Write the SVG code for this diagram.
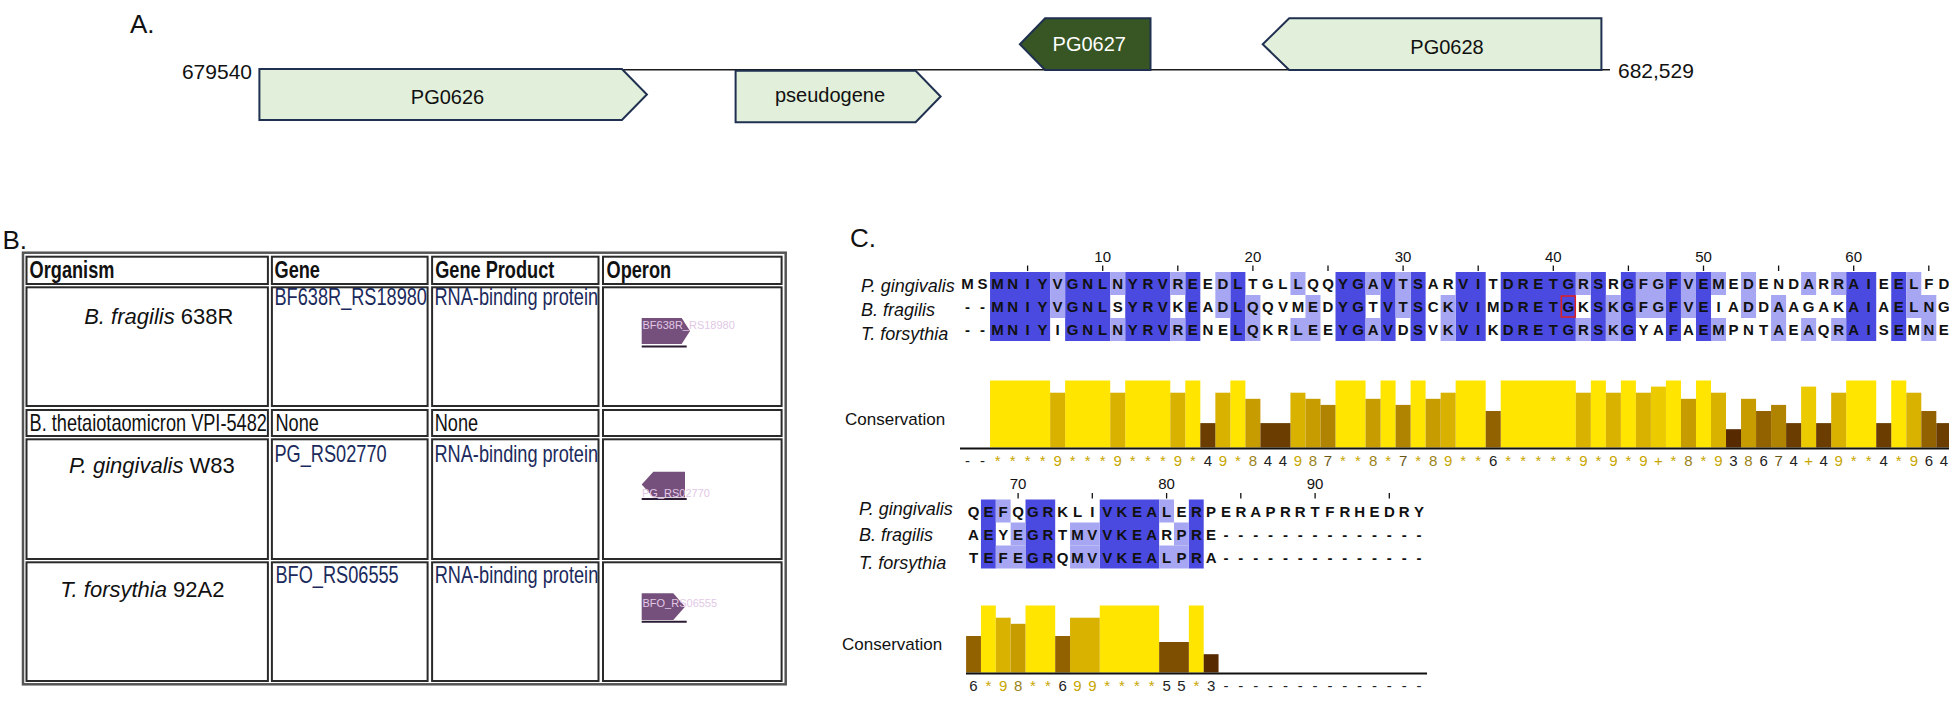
<svg xmlns="http://www.w3.org/2000/svg" width="1949" height="701" viewBox="0 0 1949 701">
<defs>
<style>
text{font-family:"Liberation Sans",Arial,Helvetica,sans-serif}
.pl{font-size:26px;fill:#111}
.gbox{fill:#e2efda;stroke:#1f3050;stroke-width:2}
.gdark{fill:#375623;stroke:#1f3050;stroke-width:2}
.gt{font-size:20px;fill:#111;text-anchor:middle}
.coord{font-size:21px;fill:#111}
.outer{fill:#fff;stroke:#555;stroke-width:2.5}
.cell{fill:#fff;stroke:#2a2a2a;stroke-width:2}
.nar{font-size:23px;fill:#111}
.th{font-weight:bold}
.lnk{fill:#1b2a5c}
.sp{font-size:22px;fill:#111}
.op{fill:#76507c}
.opl{stroke:#2b1b33;stroke-width:2}
.opt{font-size:11px;fill:#e2c8e6}
.dk{fill:#4a4ae0}
.lt{fill:#a6a6f2}
.seq{font-size:15px;font-weight:bold;fill:#111;text-anchor:middle}
.rul{font-size:15px;fill:#111;text-anchor:middle}
.tick{stroke:#111;stroke-width:1.3}
.org{font-size:18px;font-style:italic;fill:#111}
.cons{font-size:17px;fill:#111}
.b11{fill:#ffe500}
.b10{fill:#ecca00}
.b9{fill:#d9b200}
.b8{fill:#c69c00}
.b7{fill:#b08400}
.b6{fill:#936200}
.b5{fill:#7e4f00}
.b4{fill:#6c3d00}
.b3{fill:#582a00}
.base{stroke:#111;stroke-width:2}
.ct{font-size:15px;text-anchor:middle}
.cg{fill:#c8a600}
.co{fill:#9a8218}
.c7{fill:#6a5818}
.ck{fill:#222}
</style>
</defs>
<rect width="1949" height="701" fill="#fff"/>

<!-- Part A -->
<g id="partA">
<text class="pl" x="130" y="33">A.</text>
<line x1="259" y1="69.8" x2="1610" y2="69.8" stroke="#1a1a1a" stroke-width="1.5"/>
<g id="PG0626"><polygon class="gbox" points="259.4,69 621.9,69 646.9,94.5 621.9,120 259.4,120"/><text class="gt" x="447.5" y="103.5">PG0626</text></g>
<g id="pseudogene"><polygon class="gbox" points="735.6,70.7 915.6,70.7 940.6,96.5 915.6,122.3 735.6,122.3"/><text class="gt" x="830" y="102">pseudogene</text></g>
<g id="PG0627"><polygon class="gdark" points="1045.1,18.3 1150.5,18.3 1150.5,70 1045.1,70 1019.9,44.2"/><text class="gt" x="1089.3" y="51" style="fill:#fff">PG0627</text></g>
<g id="PG0628"><polygon class="gbox" points="1289.2,18.3 1601.4,18.3 1601.4,70 1289.2,70 1262.7,44.2"/><text class="gt" x="1447" y="53.5">PG0628</text></g>
<text class="coord" x="252" y="79" text-anchor="end">679540</text>
<text class="coord" x="1618" y="78">682,529</text>
</g>

<!-- Part B -->
<g id="partB">
<text class="pl" x="2.5" y="249">B.</text>
<rect class="outer" x="23" y="252.7" width="762.7" height="431.6"/>
<g id="header">
<rect class="cell" x="26.5" y="256.7" width="241.4" height="27.3"/>
<rect class="cell" x="271.9" y="256.7" width="155.7" height="27.3"/>
<rect class="cell" x="432.1" y="256.7" width="166.4" height="27.3"/>
<rect class="cell" x="603" y="256.7" width="178.6" height="27.3"/>
<text class="nar th" transform="translate(29.6 277.5) scale(0.79 1)">Organism</text>
<text class="nar th" transform="translate(274.5 277.5) scale(0.79 1)">Gene</text>
<text class="nar th" transform="translate(435.2 277.5) scale(0.79 1)">Gene Product</text>
<text class="nar th" transform="translate(606.5 277.5) scale(0.79 1)">Operon</text>
</g>
<g id="row-bfragilis">
<rect class="cell" x="26.5" y="287.3" width="241.4" height="118.7"/>
<rect class="cell" x="271.9" y="287.3" width="155.7" height="118.7"/>
<rect class="cell" x="432.1" y="287.3" width="166.4" height="118.7"/>
<rect class="cell" x="603" y="287.3" width="178.6" height="118.7"/>
<text class="sp" x="84.2" y="324"><tspan font-style="italic">B. fragilis</tspan> 638R</text>
<text class="nar lnk" transform="translate(274.5 305) scale(0.79 1)">BF638R_RS18980</text>
<text class="nar lnk" transform="translate(434.5 305) scale(0.79 1)">RNA-binding protein</text>
<polygon class="op" points="641.7,318 681.7,318 690,331 681.7,344 641.7,344"/>
<line class="opl" x1="641.7" y1="346.5" x2="686.7" y2="346.5"/>
<text class="opt" x="642.5" y="329">BF638R_RS18980</text>
</g>
<g id="row-btheta">
<rect class="cell" x="26.5" y="410" width="241.4" height="26"/>
<rect class="cell" x="271.9" y="410" width="155.7" height="26"/>
<rect class="cell" x="432.1" y="410" width="166.4" height="26"/>
<rect class="cell" x="603" y="410" width="178.6" height="26"/>
<text class="nar" transform="translate(29.6 430.5) scale(0.79 1)">B. thetaiotaomicron VPI-5482</text>
<text class="nar" transform="translate(275.5 430.5) scale(0.79 1)">None</text>
<text class="nar" transform="translate(434.7 430.5) scale(0.79 1)">None</text>
</g>
<g id="row-pgingivalis">
<rect class="cell" x="26.5" y="439.3" width="241.4" height="119.7"/>
<rect class="cell" x="271.9" y="439.3" width="155.7" height="119.7"/>
<rect class="cell" x="432.1" y="439.3" width="166.4" height="119.7"/>
<rect class="cell" x="603" y="439.3" width="178.6" height="119.7"/>
<text class="sp" x="68.9" y="473"><tspan font-style="italic">P. gingivalis</tspan> W83</text>
<text class="nar lnk" transform="translate(274.5 461.7) scale(0.79 1)">PG_RS02770</text>
<text class="nar lnk" transform="translate(434.5 461.7) scale(0.79 1)">RNA-binding protein</text>
<polygon class="op" points="641.7,484.5 653.3,471.7 685,471.7 685,497.3 653.3,497.3"/>
<line class="opl" x1="641.7" y1="499" x2="686.7" y2="499"/>
<text class="opt" x="642" y="496.7">PG_RS02770</text>
</g>
<g id="row-tforsythia">
<rect class="cell" x="26.5" y="562.3" width="241.4" height="118.7"/>
<rect class="cell" x="271.9" y="562.3" width="155.7" height="118.7"/>
<rect class="cell" x="432.1" y="562.3" width="166.4" height="118.7"/>
<rect class="cell" x="603" y="562.3" width="178.6" height="118.7"/>
<text class="sp" x="60.2" y="597"><tspan font-style="italic">T. forsythia</tspan> 92A2</text>
<text class="nar lnk" transform="translate(275.5 583) scale(0.79 1)">BFO_RS06555</text>
<text class="nar lnk" transform="translate(434.7 583) scale(0.79 1)">RNA-binding protein</text>
<polygon class="op" points="641.7,593.3 673.3,593.3 685,606.7 673.3,620 641.7,620"/>
<line class="opl" x1="641.7" y1="621.7" x2="686.7" y2="621.7"/>
<text class="opt" x="642.5" y="606.7">BFO_RS06555</text>
</g>
</g>

<!-- Part C -->
<g id="partC">
<text class="pl" x="850" y="247">C.</text>

<g id="block1">
<g id="ruler1">
<text class="rul" x="1102.7" y="261.5">10</text>
<text class="rul" x="1252.9" y="261.5">20</text>
<text class="rul" x="1403.1" y="261.5">30</text>
<text class="rul" x="1553.3" y="261.5">40</text>
<text class="rul" x="1703.5" y="261.5">50</text>
<text class="rul" x="1853.7" y="261.5">60</text>
<g class="tick">
<line x1="1027.6" y1="265.5" x2="1027.6" y2="271"/>
<line x1="1102.7" y1="265.5" x2="1102.7" y2="271"/>
<line x1="1177.8" y1="265.5" x2="1177.8" y2="271"/>
<line x1="1252.9" y1="265.5" x2="1252.9" y2="271"/>
<line x1="1328" y1="265.5" x2="1328" y2="271"/>
<line x1="1403.1" y1="265.5" x2="1403.1" y2="271"/>
<line x1="1478.2" y1="265.5" x2="1478.2" y2="271"/>
<line x1="1553.3" y1="265.5" x2="1553.3" y2="271"/>
<line x1="1628.4" y1="265.5" x2="1628.4" y2="271"/>
<line x1="1703.5" y1="265.5" x2="1703.5" y2="271"/>
<line x1="1778.6" y1="265.5" x2="1778.6" y2="271"/>
<line x1="1853.7" y1="265.5" x2="1853.7" y2="271"/>
<line x1="1928.8" y1="265.5" x2="1928.8" y2="271"/>
</g>
</g>
<g id="shade1" transform="translate(944.98 0) scale(15.02 1)">
<g class="dk">
<rect x="3" y="272" width="4" height="69"/><rect x="8" y="272" width="3" height="69"/><rect x="12" y="272" width="3" height="69"/>
<rect x="16" y="272" width="1" height="69"/><rect x="19" y="272" width="1" height="69"/><rect x="26" y="272" width="2" height="69"/>
<rect x="29" y="272" width="1" height="69"/><rect x="31" y="272" width="1" height="69"/><rect x="34" y="272" width="2" height="69"/>
<rect x="37" y="272" width="5" height="69"/><rect x="43" y="272" width="1" height="69"/><rect x="45" y="272" width="1" height="69"/>
<rect x="48" y="272" width="1" height="69"/><rect x="50" y="272" width="1" height="69"/><rect x="60" y="272" width="2" height="69"/>
<rect x="63" y="272" width="1" height="69"/>
</g>
<g class="lt">
<rect x="7" y="272" width="1" height="23"/><rect x="11" y="272" width="1" height="23"/><rect x="15" y="272" width="1" height="23"/>
<rect x="18" y="272" width="1" height="23"/><rect x="23" y="272" width="1" height="23"/><rect x="28" y="272" width="1" height="23"/>
<rect x="30" y="272" width="1" height="23"/><rect x="42" y="272" width="1" height="23"/><rect x="46" y="272" width="2" height="23"/>
<rect x="49" y="272" width="1" height="23"/><rect x="51" y="272" width="1" height="23"/><rect x="53" y="272" width="1" height="23"/>
<rect x="57" y="272" width="1" height="23"/><rect x="59" y="272" width="1" height="23"/><rect x="64" y="272" width="1" height="23"/>
<rect x="7" y="295" width="1" height="23"/><rect x="18" y="295" width="1" height="23"/><rect x="20" y="295" width="1" height="23"/>
<rect x="24" y="295" width="1" height="23"/><rect x="30" y="295" width="1" height="23"/><rect x="33" y="295" width="1" height="23"/>
<rect x="44" y="295" width="1" height="23"/><rect x="46" y="295" width="2" height="23"/><rect x="49" y="295" width="1" height="23"/>
<rect x="53" y="295" width="1" height="23"/><rect x="55" y="295" width="1" height="23"/><rect x="64" y="295" width="2" height="23"/>
<rect x="11" y="318" width="1" height="23"/><rect x="15" y="318" width="1" height="23"/><rect x="20" y="318" width="1" height="23"/>
<rect x="23" y="318" width="2" height="23"/><rect x="28" y="318" width="1" height="23"/><rect x="33" y="318" width="1" height="23"/>
<rect x="42" y="318" width="1" height="23"/><rect x="44" y="318" width="1" height="23"/><rect x="51" y="318" width="1" height="23"/>
<rect x="55" y="318" width="1" height="23"/><rect x="57" y="318" width="1" height="23"/><rect x="59" y="318" width="1" height="23"/>
<rect x="65" y="318" width="1" height="23"/>
</g>
</g>
<rect x="1561.3" y="296" width="14" height="21" fill="none" stroke="#e02020" stroke-width="1.5"/>
<text class="org" x="861" y="292">P. gingivalis</text>
<text class="org" x="861" y="316">B. fragilis</text>
<text class="org" x="861" y="340">T. forsythia</text>
<text class="seq" y="289" x="967.5 982.5 997.6 1012.6 1027.6 1042.6 1057.6 1072.7 1087.7 1102.7 1117.7 1132.7 1147.8 1162.8 1177.8 1192.8 1207.8 1222.9 1237.9 1252.9 1267.9 1282.9 1298.0 1313.0 1328.0 1343.0 1358.0 1373.1 1388.1 1403.1 1418.1 1433.1 1448.2 1463.2 1478.2 1493.2 1508.2 1523.2 1538.3 1553.3 1568.3 1583.3 1598.3 1613.4 1628.4 1643.4 1658.4 1673.4 1688.5 1703.5 1718.5 1733.5 1748.5 1763.6 1778.6 1793.6 1808.6 1823.6 1838.7 1853.7 1868.7 1883.7 1898.7 1913.8 1928.8 1943.8">MSMNIYVGNLNYRVREEDLTGLLQQYGAVTSARVITDRETGRSRGFGFVEMEDENDARRAIEELFD</text>
<text class="seq" y="312" x="967.5 982.5 997.6 1012.6 1027.6 1042.6 1057.6 1072.7 1087.7 1102.7 1117.7 1132.7 1147.8 1162.8 1177.8 1192.8 1207.8 1222.9 1237.9 1252.9 1267.9 1282.9 1298.0 1313.0 1328.0 1343.0 1358.0 1373.1 1388.1 1403.1 1418.1 1433.1 1448.2 1463.2 1478.2 1493.2 1508.2 1523.2 1538.3 1553.3 1568.3 1583.3 1598.3 1613.4 1628.4 1643.4 1658.4 1673.4 1688.5 1703.5 1718.5 1733.5 1748.5 1763.6 1778.6 1793.6 1808.6 1823.6 1838.7 1853.7 1868.7 1883.7 1898.7 1913.8 1928.8 1943.8">--MNIYVGNLSYRVKEADLQQVMEDYGTVTSCKVIMDRETGKSKGFGFVEIADDAAGAKAIAELNG</text>
<text class="seq" y="335" x="967.5 982.5 997.6 1012.6 1027.6 1042.6 1057.6 1072.7 1087.7 1102.7 1117.7 1132.7 1147.8 1162.8 1177.8 1192.8 1207.8 1222.9 1237.9 1252.9 1267.9 1282.9 1298.0 1313.0 1328.0 1343.0 1358.0 1373.1 1388.1 1403.1 1418.1 1433.1 1448.2 1463.2 1478.2 1493.2 1508.2 1523.2 1538.3 1553.3 1568.3 1583.3 1598.3 1613.4 1628.4 1643.4 1658.4 1673.4 1688.5 1703.5 1718.5 1733.5 1748.5 1763.6 1778.6 1793.6 1808.6 1823.6 1838.7 1853.7 1868.7 1883.7 1898.7 1913.8 1928.8 1943.8">--MNIYIGNLNYRVRENELQKRLEEYGAVDSVKVIKDRETGRSKGYAFAEMPNTAEAQRAISEMNE</text>
<text class="cons" x="845" y="424.5">Conservation</text>
<g id="bars1" transform="translate(944.98 0) scale(15.02 1)">
<g class="b11"><rect x="3" y="380.5" width="4" height="67"/><rect x="8" y="380.5" width="3" height="67"/><rect x="12" y="380.5" width="3" height="67"/><rect x="16" y="380.5" width="1" height="67"/><rect x="19" y="380.5" width="1" height="67"/><rect x="26" y="380.5" width="2" height="67"/><rect x="29" y="380.5" width="1" height="67"/><rect x="31" y="380.5" width="1" height="67"/><rect x="34" y="380.5" width="2" height="67"/><rect x="37" y="380.5" width="5" height="67"/><rect x="43" y="380.5" width="1" height="67"/><rect x="45" y="380.5" width="1" height="67"/><rect x="48" y="380.5" width="1" height="67"/><rect x="50" y="380.5" width="1" height="67"/><rect x="60" y="380.5" width="2" height="67"/><rect x="63" y="380.5" width="1" height="67"/></g>
<g class="b10"><rect x="47" y="386.6" width="1" height="60.9"/><rect x="57" y="386.6" width="1" height="60.9"/></g>
<g class="b9"><rect x="7" y="392.7" width="1" height="54.8"/><rect x="11" y="392.7" width="1" height="54.8"/><rect x="15" y="392.7" width="1" height="54.8"/><rect x="18" y="392.7" width="1" height="54.8"/><rect x="23" y="392.7" width="1" height="54.8"/><rect x="33" y="392.7" width="1" height="54.8"/><rect x="42" y="392.7" width="1" height="54.8"/><rect x="44" y="392.7" width="1" height="54.8"/><rect x="46" y="392.7" width="1" height="54.8"/><rect x="51" y="392.7" width="1" height="54.8"/><rect x="59" y="392.7" width="1" height="54.8"/><rect x="64" y="392.7" width="1" height="54.8"/></g>
<g class="b8"><rect x="20" y="398.8" width="1" height="48.7"/><rect x="24" y="398.8" width="1" height="48.7"/><rect x="28" y="398.8" width="1" height="48.7"/><rect x="32" y="398.8" width="1" height="48.7"/><rect x="49" y="398.8" width="1" height="48.7"/><rect x="53" y="398.8" width="1" height="48.7"/></g>
<g class="b7"><rect x="25" y="404.9" width="1" height="42.6"/><rect x="30" y="404.9" width="1" height="42.6"/><rect x="55" y="404.9" width="1" height="42.6"/></g>
<g class="b6"><rect x="36" y="411" width="1" height="36.5"/><rect x="54" y="411" width="1" height="36.5"/><rect x="65" y="411" width="1" height="36.5"/></g>
<g class="b4"><rect x="17" y="423.1" width="1" height="24.4"/><rect x="21" y="423.1" width="2" height="24.4"/><rect x="56" y="423.1" width="1" height="24.4"/><rect x="58" y="423.1" width="1" height="24.4"/><rect x="62" y="423.1" width="1" height="24.4"/><rect x="66" y="423.1" width="1" height="24.4"/></g>
<g class="b3"><rect x="52" y="429.2" width="1" height="18.3"/></g>
</g>
<line class="base" x1="960" y1="448.5" x2="1949" y2="448.5"/>
<text class="ct" y="465.5" x="967.5 982.5 997.6 1012.6 1027.6 1042.6 1057.6 1072.7 1087.7 1102.7 1117.7 1132.7 1147.8 1162.8 1177.8 1192.8 1207.8 1222.9 1237.9 1252.9 1267.9 1282.9 1298.0 1313.0 1328.0 1343.0 1358.0 1373.1 1388.1 1403.1 1418.1 1433.1 1448.2 1463.2 1478.2 1493.2 1508.2 1523.2 1538.3 1553.3 1568.3 1583.3 1598.3 1613.4 1628.4 1643.4 1658.4 1673.4 1688.5 1703.5 1718.5 1733.5 1748.5 1763.6 1778.6 1793.6 1808.6 1823.6 1838.7 1853.7 1868.7 1883.7 1898.7 1913.8 1928.8 1943.8"><tspan class="ck">--</tspan><tspan class="cg">****9***9***9*</tspan><tspan class="ck">4</tspan><tspan class="cg">9*</tspan><tspan class="co">8</tspan><tspan class="ck">44</tspan><tspan class="cg">9</tspan><tspan class="co">8</tspan><tspan class="c7">7</tspan><tspan class="cg">**</tspan><tspan class="co">8</tspan><tspan class="cg">*</tspan><tspan class="c7">7</tspan><tspan class="cg">*</tspan><tspan class="co">8</tspan><tspan class="cg">9**</tspan><tspan class="ck">6</tspan><tspan class="cg">*****9*9*9+*</tspan><tspan class="co">8</tspan><tspan class="cg">*9</tspan><tspan class="ck">3</tspan><tspan class="co">8</tspan><tspan class="ck">6</tspan><tspan class="c7">7</tspan><tspan class="ck">4</tspan><tspan class="cg">+</tspan><tspan class="ck">4</tspan><tspan class="cg">9**</tspan><tspan class="ck">4</tspan><tspan class="cg">*9</tspan><tspan class="ck">64</tspan></text>
</g>

<g id="block2">
<g id="ruler2">
<text class="rul" x="1018.1" y="489">70</text>
<text class="rul" x="1166.6" y="489">80</text>
<text class="rul" x="1315.1" y="489">90</text>
<g class="tick">
<line x1="1018.1" y1="493" x2="1018.1" y2="498.5"/>
<line x1="1092.3" y1="493" x2="1092.3" y2="498.5"/>
<line x1="1166.6" y1="493" x2="1166.6" y2="498.5"/>
<line x1="1240.8" y1="493" x2="1240.8" y2="498.5"/>
<line x1="1315.1" y1="493" x2="1315.1" y2="498.5"/>
<line x1="1389.3" y1="493" x2="1389.3" y2="498.5"/>
</g>
</g>
<g id="shade2" transform="translate(-28.85 0) scale(14.85 1)">
<g class="dk"><rect x="68" y="499.5" width="1" height="69"/><rect x="71" y="499.5" width="2" height="69"/><rect x="76" y="499.5" width="4" height="69"/><rect x="82" y="499.5" width="1" height="69"/></g>
<g class="lt">
<rect x="69" y="499.5" width="1" height="23"/><rect x="80" y="499.5" width="1" height="23"/>
<rect x="70" y="522.5" width="1" height="23"/><rect x="74" y="522.5" width="2" height="23"/><rect x="81" y="522.5" width="1" height="23"/>
<rect x="69" y="545.5" width="2" height="23"/><rect x="74" y="545.5" width="2" height="23"/><rect x="80" y="545.5" width="2" height="23"/>
</g>
</g>
<text class="org" x="859" y="515">P. gingivalis</text>
<text class="org" x="859" y="541">B. fragilis</text>
<text class="org" x="859" y="569">T. forsythia</text>
<text class="seq" y="516.5" x="973.5 988.4 1003.2 1018.1 1032.9 1047.8 1062.6 1077.5 1092.3 1107.2 1122.0 1136.9 1151.7 1166.6 1181.4 1196.3 1211.1 1226.0 1240.8 1255.7 1270.5 1285.4 1300.2 1315.1 1329.9 1344.8 1359.6 1374.5 1389.3 1404.2 1419.0">QEFQGRKLIVKEALERPERAPRRTFRHEDRY</text>
<text class="seq" y="539.5" x="973.5 988.4 1003.2 1018.1 1032.9 1047.8 1062.6 1077.5 1092.3 1107.2 1122.0 1136.9 1151.7 1166.6 1181.4 1196.3 1211.1 1226.0 1240.8 1255.7 1270.5 1285.4 1300.2 1315.1 1329.9 1344.8 1359.6 1374.5 1389.3 1404.2 1419.0">AEYEGRTMVVKEARPRE--------------</text>
<text class="seq" y="562.5" x="973.5 988.4 1003.2 1018.1 1032.9 1047.8 1062.6 1077.5 1092.3 1107.2 1122.0 1136.9 1151.7 1166.6 1181.4 1196.3 1211.1 1226.0 1240.8 1255.7 1270.5 1285.4 1300.2 1315.1 1329.9 1344.8 1359.6 1374.5 1389.3 1404.2 1419.0">TEFEGRQMVVKEALPRA--------------</text>
<text class="cons" x="842" y="649.5">Conservation</text>
<g id="bars2" transform="translate(-28.85 0) scale(14.85 1)">
<g class="b11"><rect x="68" y="605.5" width="1" height="67"/><rect x="71" y="605.5" width="2" height="67"/><rect x="76" y="605.5" width="4" height="67"/><rect x="82" y="605.5" width="1" height="67"/></g>
<g class="b9"><rect x="69" y="617.7" width="1" height="54.8"/><rect x="74" y="617.7" width="2" height="54.8"/></g>
<g class="b8"><rect x="70" y="623.8" width="1" height="48.7"/></g>
<g class="b6"><rect x="67" y="636" width="1" height="36.5"/><rect x="73" y="636" width="1" height="36.5"/></g>
<g class="b5"><rect x="80" y="642" width="2" height="30.5"/></g>
<g class="b3"><rect x="83" y="654.2" width="1" height="18.3"/></g>
</g>
<line class="base" x1="966" y1="673.5" x2="1427" y2="673.5"/>
<text class="ct" y="690.5" x="973.5 988.4 1003.2 1018.1 1032.9 1047.8 1062.6 1077.5 1092.3 1107.2 1122.0 1136.9 1151.7 1166.6 1181.4 1196.3 1211.1 1226.0 1240.8 1255.7 1270.5 1285.4 1300.2 1315.1 1329.9 1344.8 1359.6 1374.5 1389.3 1404.2 1419.0"><tspan class="ck">6</tspan><tspan class="cg">*9</tspan><tspan class="co">8</tspan><tspan class="cg">**</tspan><tspan class="ck">6</tspan><tspan class="cg">99****</tspan><tspan class="ck">55</tspan><tspan class="cg">*</tspan><tspan class="ck">3--------------</tspan></text>
</g>
</g>
</svg>
